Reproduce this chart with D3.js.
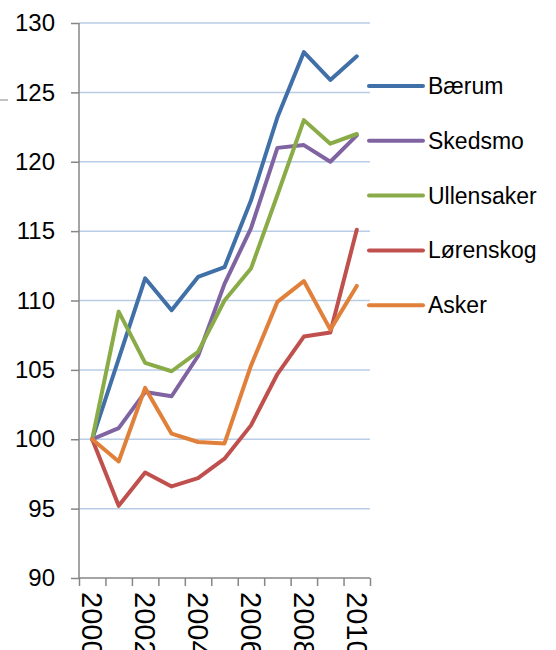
<!DOCTYPE html>
<html>
<head>
<meta charset="utf-8">
<script src="https://cdn.jsdelivr.net/npm/d3@7/dist/d3.min.js"></script>
<style>
  body { margin: 0; background: #fff; }
  svg { display: block; font-family: Arial, "Liberation Sans", sans-serif; }
</style>
</head>
<body>
<div id="chart"></div>
<script>
// data
const years = ["2000","2001","2002","2003","2004","2005","2006","2007","2008","2009","2010"];
const yearLabels = ["2000","","2002","","2004","","2006","","2008","","2010"];
const yTicks = [90, 95, 100, 105, 110, 115, 120, 125, 130];

const baerum     = [100, 105.8, 111.6, 109.3, 111.7, 112.4, 117.2, 123.2, 127.9, 125.9, 127.6];
const skedsmo    = [100, 100.8, 103.4, 103.1, 106.0, 111.2, 115.2, 121.0, 121.2, 120.0, 121.9];
const ullensaker = [100, 109.2, 105.5, 104.9, 106.3, 110.0, 112.3, 117.6, 123.0, 121.3, 122.0];
const lorenskog  = [100, 95.2, 97.6, 96.6, 97.2, 98.6, 101.0, 104.7, 107.4, 107.7, 115.1];
const asker      = [100, 98.4, 103.7, 100.4, 99.8, 99.7, 105.3, 109.9, 111.4, 107.9, 111.05];

const seriesNames = ["Bærum", "Skedsmo", "Ullensaker", "Lørenskog", "Asker"];
const seriesValues = [baerum, skedsmo, ullensaker, lorenskog, asker];
const colors = ["#4170a8", "#8064a2", "#8aac48", "#c0504d", "#e0803a"];

const W = 556, H = 650;
const plotLeft = 79, plotRight = 370, plotTop = 23, plotBottom = 578;

const svg = d3.select("#chart").append("svg")
  .attr("width", W)
  .attr("height", H);

const x = d3.scaleBand().domain(years).range([plotLeft, plotRight]);
const y = d3.scaleLinear().domain([90, 130]).range([plotBottom, plotTop]);

// gridlines
svg.append("g")
  .selectAll("line")
  .data(yTicks.filter(d => d > 90))
  .join("line")
  .attr("x1", plotLeft).attr("x2", plotRight)
  .attr("y1", d => y(d)).attr("y2", d => y(d))
  .attr("stroke", "#b9cde5")
  .attr("stroke-width", 1.5);

// stray mark at the left edge
svg.append("line")
  .attr("x1", 0).attr("x2", 8)
  .attr("y1", 100).attr("y2", 100)
  .attr("stroke", "#999").attr("stroke-width", 1.2);

// y axis
const yAxis = svg.append("g")
  .attr("transform", "translate(" + plotLeft + ",0)")
  .call(d3.axisLeft(y).tickValues(yTicks).tickSize(8).tickPadding(16));
yAxis.selectAll("path, line").attr("stroke", "#868686").attr("stroke-width", 1.5);
yAxis.select(".domain").attr("d", "M0," + plotTop + "V" + plotBottom);
yAxis.selectAll("text")
  .style("font-size", "24px")
  .style("font-family", "Arial, 'Liberation Sans', sans-serif")
  .attr("fill", "#000");

// x axis, ticks on category boundaries
const xb = d3.scaleLinear().domain([0, years.length]).range([plotLeft, plotRight]);
const xAxis = svg.append("g")
  .attr("transform", "translate(0," + plotBottom + ")")
  .call(d3.axisBottom(xb).tickValues(d3.range(years.length + 1)).tickSize(8).tickFormat(""));
xAxis.selectAll("path, line").attr("stroke", "#868686").attr("stroke-width", 1.5);
xAxis.select(".domain").attr("d", "M" + plotLeft + ",0H" + plotRight);

svg.append("g")
  .selectAll("text")
  .data(years)
  .join("text")
  .attr("transform", (d) => "translate(" + (x(d) + x.bandwidth() / 2) + "," + (plotBottom + 14) + ") rotate(90)")
  .attr("dominant-baseline", "central")
  .style("font-size", "29px")
  .attr("fill", "#000")
  .text((d, i) => yearLabels[i]);

// lines
const line = d3.line()
  .x((d, i) => x(years[i]) + x.bandwidth() / 2)
  .y(d => y(d));

svg.append("g")
  .selectAll("path")
  .data(seriesValues)
  .join("path")
  .attr("d", line)
  .attr("fill", "none")
  .attr("stroke", (d, i) => colors[i])
  .attr("stroke-width", 4)
  .attr("stroke-linejoin", "round")
  .attr("stroke-linecap", "round");

// legend
const legend = svg.append("g")
  .selectAll("g")
  .data(seriesNames)
  .join("g")
  .attr("transform", (d, i) => "translate(368," + (86 + i * 54.8) + ")");

legend.append("line")
  .attr("x1", 1).attr("x2", 55)
  .attr("stroke", (d, i) => colors[i])
  .attr("stroke-width", 4)
  .attr("stroke-linecap", "round");

legend.append("text")
  .attr("x", 60)
  .attr("dominant-baseline", "central")
  .style("font-size", "23px")
  .attr("fill", "#000")
  .text(d => d);
</script>
</body>
</html>
